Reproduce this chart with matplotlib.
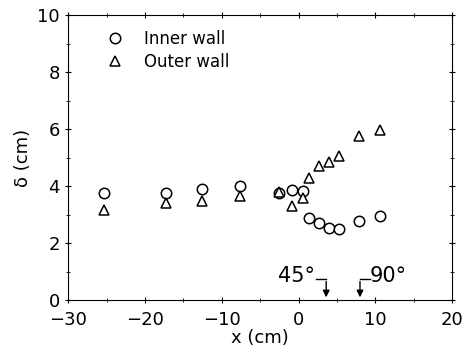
import matplotlib
matplotlib.use("Agg")
import matplotlib.pyplot as plt
from matplotlib.ticker import MultipleLocator

# Data
inner_x = [-25.3, -17.2, -12.6, -7.6, -2.5, -0.8, 0.6, 1.3, 2.7, 4.0, 5.3, 7.9, 10.6]
inner_d = [3.75, 3.76, 3.90, 4.02, 3.76, 3.86, 3.84, 2.87, 2.71, 2.53, 2.48, 2.78, 2.95]
outer_x = [-25.3, -17.2, -12.6, -7.6, -2.5, -0.8, 0.6, 1.3, 2.7, 4.0, 5.3, 7.9, 10.6]
outer_d = [3.15, 3.42, 3.46, 3.64, 3.78, 3.30, 3.57, 4.30, 4.72, 4.86, 5.06, 5.76, 5.98]
arrow_x = [3.6, 8.0]
arrow_labels = ["45°", "90°"]

fig = plt.figure(figsize=(4.7, 3.49), dpi=100)
ax = fig.add_axes([0.145, 0.14, 0.817, 0.817])

ax.plot(inner_x, inner_d, linestyle="none", marker="o", ms=7.5, mfc="white",
        mec="black", mew=1.1, label="Inner wall")
ax.plot(outer_x, outer_d, linestyle="none", marker="^", ms=6.5, mfc="white",
        mec="black", mew=1.1, label="Outer wall")

# angle markers
ax.annotate("", xy=(arrow_x[0], 0.0), xytext=(arrow_x[0], 0.75),
            arrowprops=dict(arrowstyle="-|>", color="black", lw=1.0, mutation_scale=10))
ax.plot([arrow_x[0] - 1.3, arrow_x[0]], [0.75, 0.75], color="black", lw=1.0)
ax.text(arrow_x[0] - 1.5, 0.85, arrow_labels[0], ha="right", va="center", fontsize=15)
ax.annotate("", xy=(arrow_x[1], 0.0), xytext=(arrow_x[1], 0.75),
            arrowprops=dict(arrowstyle="-|>", color="black", lw=1.0, mutation_scale=10))
ax.plot([arrow_x[1], arrow_x[1] + 1.3], [0.75, 0.75], color="black", lw=1.0)
ax.text(arrow_x[1] + 1.2, 0.85, arrow_labels[1], ha="left", va="center", fontsize=15)

ax.set_xlim(-30, 20)
ax.set_ylim(0, 10)
ax.xaxis.set_major_locator(MultipleLocator(10))
ax.xaxis.set_minor_locator(MultipleLocator(5))
ax.yaxis.set_major_locator(MultipleLocator(2))
ax.yaxis.set_minor_locator(MultipleLocator(1))
ax.tick_params(which="both", direction="inout", top=True, right=True, labelsize=13)
ax.tick_params(which="major", length=5)
ax.tick_params(which="minor", length=3)
ax.set_xticks([-30, -20, -10, 0, 10, 20])
ax.set_xticklabels(["−30", "−20", "−10", "0", "10", "20"])
ax.tick_params(axis="x", pad=5)
ax.set_xlabel("x (cm)", fontsize=13, labelpad=0)
ax.set_ylabel("δ (cm)", fontsize=13)

ax.legend(loc="upper left", frameon=False, fontsize=12, handletextpad=0.7,
          borderaxespad=0.5, labelspacing=0.3, bbox_to_anchor=(0.04, 1.0))

fig.savefig("out.png", dpi=100)
